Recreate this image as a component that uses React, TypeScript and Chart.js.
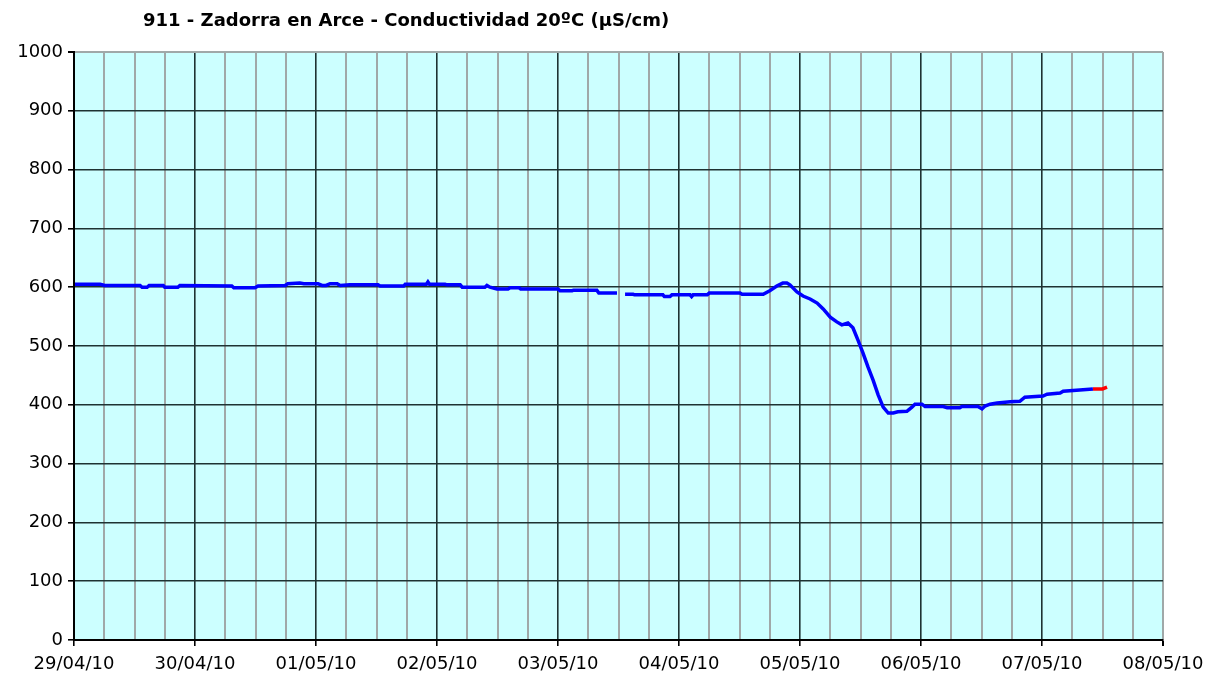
import React, { useEffect, useRef } from "react";
import { Chart, registerables } from "chart.js";

Chart.register(...registerables);

const TITLE = "911 - Zadorra en Arce - Conductividad 20ºC (µS/cm)";
const DATE_LABELS = ["29/04/10", "30/04/10", "01/05/10", "02/05/10", "03/05/10", "04/05/10", "05/05/10", "06/05/10", "07/05/10", "08/05/10"];

// hours since 29/04/10 00:00
const blueHours: number[] = [
  0.2, 5.2, 6.1, 13.1, 13.5, 14.5, 14.9, 17.7, 18.0, 20.6, 21.0, 31.3, 31.7, 35.9, 36.5, 41.9, 42.4, 44.8, 45.6, 48.4,
  49.2, 50.0, 50.8, 52.2, 52.8, 54.7, 60.3, 60.7, 65.4, 65.7, 69.9, 70.2, 70.5, 73.6, 74.0, 76.6, 77.0, 81.5, 81.9, 82.5,
  83.9, 86.1, 86.5, 88.3, 88.6, 96.0, 96.4, 98.8, 99.1, 103.7, 104.1, 107.7, 108.5, 109.3, 110.9, 111.2, 116.8, 117.1, 118.2, 118.6,
  122.2, 122.5, 122.8, 125.6, 126.0, 132.1, 132.5, 136.7, 138.0, 139.4, 140.6, 141.4, 142.0, 143.4, 144.6, 146.0, 147.4, 148.6, 150.0, 151.3,
  152.3, 153.5, 154.5, 155.5, 156.5, 157.5, 158.5, 159.5, 160.5, 161.5, 162.5, 163.4, 165.2, 166.2, 166.8, 168.2, 168.8, 172.4, 173.2, 175.7,
  176.1, 179.3, 180.1, 180.7, 181.7, 183.1, 185.7, 187.6, 188.6, 192.2, 193.0, 195.6, 196.2, 199.5, 202.1,
];
const blueValues: (number | null)[] = [
  605, 605, 603, 603, 600, 600, 603, 603, 600, 600, 603, 602, 599, 599, 602, 603, 606, 607, 606, 606,
  603, 603, 606, 606, 603, 604, 604, 602, 602, 605, 605, 609, 605, 605, 604, 604, 600, 600, 603, 600,
  597, 597, 599, 599, 597, 597, 594, 594, 595, 595, 590, 590, null, 588, 588, 587, 587, 584, 584, 587,
  587, 584, 587, 587, 590, 590, 588, 588, 594, 602, 607, 607, 604, 592, 585, 580, 573, 563, 549, 541,
  536, 539, 531, 510, 488, 464, 442, 417, 396, 386, 386, 388, 389, 396, 401, 401, 397, 397, 395, 395,
  397, 397, 393, 398, 401, 403, 405, 406, 413, 415, 418, 420, 423, 425, 427,
];
const redHours: number[] = [202.1, 204.0, 204.9];
const redValues: number[] = [427, 427, 430];

const Y_TICKS_STEP = 100;

const bgPlugin = {
  id: "plotBg",
  beforeDraw(chart: any) {
    const { ctx, chartArea } = chart;
    if (!chartArea) return;
    ctx.save();
    ctx.fillStyle = "#CCFFFF";
    ctx.fillRect(chartArea.left, chartArea.top, chartArea.right - chartArea.left, chartArea.bottom - chartArea.top);
    ctx.restore();
  },
};

const MAJOR = "#1E3232";
const MINOR = "#A0A8A8";

export default function App() {
  const ref = useRef<HTMLCanvasElement | null>(null);
  useEffect(() => {
    if (!ref.current) return;
    const blue = blueHours.map((h, i) => ({ x: h, y: blueValues[i] }));
    const red = redHours.map((h, i) => ({ x: h, y: redValues[i] }));
    const font = { family: "'DejaVu Sans', Verdana, sans-serif", size: 18 };
    const chart = new Chart(ref.current, {
      type: "line",
      data: {
        datasets: [
          { data: blue as any, borderColor: "#0000FF", borderWidth: 3.5, pointRadius: 0, tension: 0, spanGaps: false },
          { data: red as any, borderColor: "#FF0000", borderWidth: 3.5, pointRadius: 0, tension: 0 },
        ],
      },
      options: {
        animation: false,
        responsive: false,
        parsing: false as any,
        layout: { padding: { left: 0, top: 52, right: 58, bottom: 0 } },
        plugins: { legend: { display: false }, title: { display: false }, tooltip: { enabled: false } },
        scales: {
          x: {
            type: "linear",
            min: 0,
            max: 216,
            afterFit(scale: any) {
              scale.height = 40;
            },
            ticks: {
              stepSize: 6,
              autoSkip: false,
              maxRotation: 0,
              minRotation: 0,
              padding: 8,
              color: "#000",
              font,
              callback: (v: any) => (Number(v) % 24 === 0 ? DATE_LABELS[Number(v) / 24] : ""),
            },
            grid: {
              color: (c: any) => (c.tick && c.tick.value % 24 === 0 && c.tick.value !== 216 ? MAJOR : MINOR),
              tickColor: (c: any) => (c.tick && c.tick.value % 24 === 0 ? "#000000" : "rgba(0,0,0,0)"),
              tickLength: 6,
              lineWidth: (c: any) => (c.tick && c.tick.value % 24 === 0 && c.tick.value !== 216 ? 1.6 : 2),
            },
            border: { display: true, color: "#000", width: 2 },
          },
          y: {
            min: 0,
            max: 1000,
            afterFit(scale: any) {
              scale.width = 74;
            },
            ticks: { stepSize: Y_TICKS_STEP, padding: 5, color: "#000", font, callback: (v: any) => String(v) },
            grid: {
              color: (c: any) => (c.tick && c.tick.value === 1000 ? MINOR : MAJOR),
              tickColor: "#000000",
              tickLength: 6,
              lineWidth: (c: any) => (c.tick && c.tick.value === 1000 ? 2 : 1.6),
            },
            border: { display: true, color: "#000", width: 2 },
          },
        },
      },
      plugins: [bgPlugin],
    });
    return () => chart.destroy();
  }, []);
  return (
    <div style={{ position: "fixed", left: 0, top: 0, width: 1221, height: 680, background: "#fff" }}>
      <div
        style={{
          position: "absolute",
          left: 143,
          top: 9,
          fontFamily: "'DejaVu Sans', Verdana, sans-serif",
          fontWeight: "bold",
          fontSize: 18,
          lineHeight: "22px",
          color: "#000",
          whiteSpace: "nowrap",
        }}
      >
        {TITLE}
      </div>
      <canvas ref={ref} width={1221} height={680} style={{ display: "block" }} />
    </div>
  );
}
